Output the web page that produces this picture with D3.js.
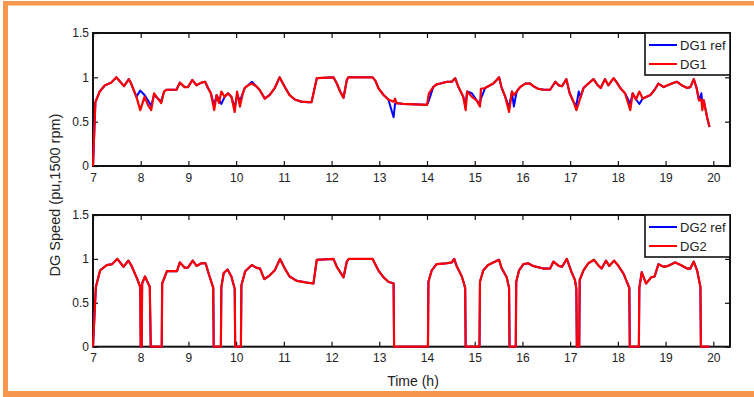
<!DOCTYPE html>
<html>
<head>
<meta charset="utf-8">
<script src="https://cdn.jsdelivr.net/npm/d3@7"></script>
<style>
  html, body { margin: 0; padding: 0; background: #fff; }
  svg { display: block; }
  text { font-family: "Liberation Sans", Arial, sans-serif; fill: #222; }
</style>
</head>
<body>
<svg id="chart" width="754" height="397"></svg>
<script>
// Time axis ticks (hours) and speed ticks (pu)
const hourTicks = [7, 8, 9, 10, 11, 12, 13, 14, 15, 16, 17, 18, 19, 20];
const speedTicks = [0, 0.5, 1, 1.5];

// DG1: time (h), measured speed and reference speed (pu)
const t1 = [7.00, 7.05, 7.14, 7.25, 7.38, 7.49, 7.65, 7.75, 7.80, 7.91,
  7.99, 8.08, 8.15, 8.22, 8.28, 8.36, 8.43, 8.49, 8.54, 8.75,
  8.82, 8.92, 8.99, 9.08, 9.17, 9.27, 9.35, 9.41, 9.47, 9.54,
  9.59, 9.64, 9.69, 9.76, 9.83, 9.90, 9.97, 10.02, 10.08, 10.14,
  10.18, 10.25, 10.33, 10.42, 10.49, 10.60, 10.70, 10.81, 10.91, 11.02,
  11.12, 11.23, 11.37, 11.51, 11.58, 11.69, 12.04, 12.11, 12.18, 12.25,
  12.32, 12.35, 12.86, 12.92, 12.98, 13.09, 13.19, 13.30, 13.33, 13.36,
  13.50, 14.00, 14.04, 14.13, 14.20, 14.28, 14.42, 14.52, 14.59, 14.66,
  14.76, 14.81, 14.84, 14.94, 15.04, 15.11, 15.13, 15.22, 15.32, 15.39,
  15.46, 15.51, 15.56, 15.64, 15.72, 15.78, 15.82, 15.88, 15.95, 16.06,
  16.16, 16.23, 16.33, 16.45, 16.58, 16.69, 16.76, 16.83, 16.92, 16.99,
  17.07, 17.13, 17.18, 17.22, 17.28, 17.38, 17.49, 17.58, 17.64, 17.73,
  17.80, 17.91, 17.98, 18.05, 18.15, 18.26, 18.31, 18.38, 18.45, 18.52,
  18.60, 18.68, 18.77, 18.85, 18.96, 19.04, 19.13, 19.24, 19.34, 19.45,
  19.52, 19.59, 19.65, 19.70, 19.75, 19.77, 19.80, 19.87, 19.92];
const dg1 = [0, 0.72, 0.84, 0.91, 0.94, 1.00, 0.90, 0.98, 0.93, 0.78,
  0.63, 0.78, 0.69, 0.63, 0.82, 0.76, 0.71, 0.84, 0.86, 0.86,
  0.94, 0.89, 0.89, 0.97, 0.91, 0.94, 0.95, 0.88, 0.82, 0.63,
  0.80, 0.71, 0.84, 0.78, 0.82, 0.78, 0.61, 0.84, 0.67, 0.82,
  0.88, 0.91, 0.93, 0.90, 0.86, 0.76, 0.80, 0.88, 1.00, 0.89,
  0.80, 0.75, 0.725, 0.72, 0.72, 0.99, 1.00, 0.93, 0.84, 0.77,
  0.97, 1.00, 1.00, 0.96, 0.88, 0.80, 0.75, 0.725, 0.76, 0.71,
  0.70, 0.69, 0.82, 0.89, 0.92, 0.93, 0.95, 0.95, 0.99, 0.89,
  0.78, 0.63, 0.84, 0.78, 0.74, 0.67, 0.87, 0.88, 0.91, 0.93,
  0.97, 1.00, 0.89, 0.78, 0.61, 0.84, 0.80, 0.84, 0.89, 0.93,
  0.93, 0.90, 0.87, 0.86, 0.86, 0.95, 0.91, 0.90, 0.98, 0.82,
  0.725, 0.63, 0.71, 0.78, 0.88, 0.93, 0.98, 0.91, 0.88, 0.98,
  0.91, 0.99, 0.94, 0.88, 0.82, 0.63, 0.82, 0.75, 0.84, 0.76,
  0.78, 0.80, 0.86, 0.93, 0.89, 0.91, 0.93, 0.95, 0.91, 0.88,
  0.89, 0.98, 0.88, 0.74, 0.75, 0.63, 0.74, 0.55, 0.44];
const dg1Ref = [0, 0.72, 0.84, 0.91, 0.94, 1.00, 0.90, 0.98, 0.93, 0.78,
  0.85, 0.80, 0.74, 0.68, 0.80, 0.76, 0.73, 0.84, 0.86, 0.86,
  0.94, 0.89, 0.89, 0.97, 0.91, 0.94, 0.95, 0.88, 0.82, 0.68,
  0.80, 0.75, 0.70, 0.78, 0.82, 0.78, 0.66, 0.80, 0.74, 0.82,
  0.88, 0.91, 0.95, 0.90, 0.86, 0.76, 0.80, 0.88, 1.00, 0.89,
  0.80, 0.75, 0.725, 0.72, 0.72, 0.99, 1.00, 0.93, 0.84, 0.77,
  0.97, 1.00, 1.00, 0.96, 0.88, 0.80, 0.75, 0.55, 0.70, 0.71,
  0.70, 0.69, 0.74, 0.89, 0.92, 0.93, 0.95, 0.95, 0.99, 0.89,
  0.78, 0.68, 0.84, 0.82, 0.74, 0.70, 0.76, 0.88, 0.91, 0.93,
  0.97, 1.00, 0.89, 0.78, 0.66, 0.84, 0.67, 0.84, 0.89, 0.93,
  0.93, 0.90, 0.87, 0.86, 0.86, 0.95, 0.91, 0.90, 0.98, 0.82,
  0.725, 0.68, 0.84, 0.78, 0.88, 0.93, 0.98, 0.91, 0.88, 0.98,
  0.91, 0.99, 0.94, 0.88, 0.82, 0.70, 0.82, 0.75, 0.70, 0.76,
  0.78, 0.80, 0.86, 0.93, 0.89, 0.91, 0.93, 0.95, 0.91, 0.88,
  0.89, 0.98, 0.88, 0.74, 0.82, 0.70, 0.74, 0.55, 0.44];

// DG2: time (h), measured speed and reference speed (pu); zero while offline
const t2 = [7.00, 7.06, 7.15, 7.29, 7.40, 7.51, 7.64, 7.74, 7.80, 7.92,
  7.99, 8.00, 8.02, 8.03, 8.09, 8.19, 8.21, 8.44, 8.45, 8.55,
  8.76, 8.82, 8.92, 8.99, 9.09, 9.17, 9.27, 9.36, 9.42, 9.52,
  9.53, 9.68, 9.69, 9.74, 9.82, 9.90, 9.97, 9.98, 10.10, 10.11,
  10.19, 10.33, 10.42, 10.50, 10.59, 10.70, 10.81, 10.92, 11.02, 11.12,
  11.27, 11.48, 11.62, 11.69, 12.04, 12.11, 12.25, 12.32, 12.36, 12.86,
  12.98, 13.09, 13.19, 13.30, 13.31, 14.02, 14.03, 14.10, 14.20, 14.40,
  14.52, 14.57, 14.62, 14.73, 14.80, 14.81, 15.10, 15.11, 15.18, 15.28,
  15.39, 15.51, 15.56, 15.67, 15.72, 15.73, 15.86, 15.87, 15.93, 16.02,
  16.12, 16.22, 16.44, 16.58, 16.65, 16.76, 16.83, 16.93, 17.03, 17.10,
  17.13, 17.14, 17.19, 17.20, 17.28, 17.38, 17.50, 17.60, 17.66, 17.75,
  17.82, 17.92, 18.00, 18.12, 18.24, 18.25, 18.44, 18.45, 18.50, 18.59,
  18.70, 18.77, 18.85, 18.96, 19.05, 19.20, 19.32, 19.45, 19.52, 19.59,
  19.66, 19.73, 19.74, 19.92];
const dg2 = [0, 0.68, 0.87, 0.93, 0.94, 1.00, 0.91, 0.98, 0.93, 0.78,
  0.68, 0, 0, 0.72, 0.80, 0.68, 0, 0, 0.72, 0.86,
  0.86, 0.96, 0.90, 0.90, 0.98, 0.92, 0.95, 0.95, 0.84, 0.67,
  0, 0, 0.68, 0.84, 0.88, 0.80, 0.66, 0, 0, 0.70,
  0.86, 0.93, 0.90, 0.89, 0.77, 0.81, 0.87, 1.00, 0.89, 0.80,
  0.75, 0.73, 0.72, 0.99, 1.00, 0.91, 0.79, 0.97, 1.00, 1.00,
  0.87, 0.79, 0.74, 0.72, 0, 0, 0.74, 0.87, 0.94, 0.95,
  0.96, 1.00, 0.92, 0.80, 0.67, 0, 0, 0.74, 0.87, 0.93,
  0.96, 0.99, 0.90, 0.79, 0.67, 0, 0, 0.74, 0.87, 0.94,
  0.95, 0.92, 0.89, 0.89, 0.97, 0.92, 0.91, 1.00, 0.85, 0.76,
  0.66, 0, 0, 0.76, 0.87, 0.95, 0.99, 0.92, 0.89, 0.98,
  0.92, 0.98, 0.93, 0.83, 0.67, 0, 0, 0.67, 0.85, 0.72,
  0.79, 0.80, 0.94, 0.91, 0.92, 0.96, 0.93, 0.89, 0.89, 0.97,
  0.87, 0.68, 0, 0];
const dg2Ref = [0, 0.68, 0.87, 0.93, 0.94, 1.00, 0.91, 0.98, 0.93, 0.78,
  0.68, 0, 0, 0.72, 0.80, 0.68, 0, 0, 0.72, 0.86,
  0.86, 0.96, 0.90, 0.90, 0.98, 0.92, 0.95, 0.95, 0.84, 0.67,
  0, 0, 0.68, 0.84, 0.88, 0.80, 0.66, 0, 0, 0.70,
  0.86, 0.93, 0.90, 0.89, 0.77, 0.81, 0.87, 1.00, 0.89, 0.80,
  0.75, 0.73, 0.72, 0.99, 1.00, 0.91, 0.79, 0.97, 1.00, 1.00,
  0.87, 0.79, 0.74, 0.72, 0, 0, 0.74, 0.87, 0.94, 0.95,
  0.96, 1.00, 0.92, 0.80, 0.67, 0, 0, 0.74, 0.87, 0.93,
  0.96, 0.99, 0.90, 0.79, 0.67, 0, 0, 0.74, 0.87, 0.94,
  0.95, 0.92, 0.89, 0.89, 0.97, 0.92, 0.91, 1.00, 0.85, 0.76,
  0.66, 0, 0, 0.76, 0.87, 0.95, 0.99, 0.92, 0.89, 0.98,
  0.92, 0.98, 0.93, 0.83, 0.67, 0, 0, 0.67, 0.85, 0.72,
  0.79, 0.80, 0.94, 0.91, 0.92, 0.96, 0.93, 0.89, 0.89, 0.97,
  0.87, 0.68, 0, 0];

const REF_COLOR = "#0000ff";
const ACT_COLOR = "#ff0000";

const svg = d3.select("#chart");

// Orange frame around the figure
const frame = svg.append("g").attr("fill", "#f7964f");
frame.append("rect").attr("x", 3).attr("y", 1).attr("width", 754).attr("height", 4.5);
frame.append("rect").attr("x", 3).attr("y", 1).attr("width", 5).attr("height", 396);
frame.append("rect").attr("x", 3).attr("y", 391).attr("width", 754).attr("height", 6);

const left = 93, right = 730;
const x = d3.scaleLinear().domain([7, 20.35]).range([left, right]);

function panel(top, bottom, times, actual, ref, names) {
  const y = d3.scaleLinear().domain([0, 1.5]).range([bottom, top]);
  const g = svg.append("g");

  // inward ticks on all four sides
  g.append("g").attr("transform", `translate(0,${bottom})`)
    .call(d3.axisBottom(x).tickValues(hourTicks).tickSizeInner(-5).tickSizeOuter(0).tickPadding(7).tickFormat(d3.format("d")))
    .call(a => a.select(".domain").remove());
  g.append("g").attr("transform", `translate(0,${top})`)
    .call(d3.axisTop(x).tickValues(hourTicks).tickSizeInner(-5).tickSizeOuter(0).tickFormat(""))
    .call(a => a.select(".domain").remove());
  g.append("g").attr("transform", `translate(${left},0)`)
    .call(d3.axisLeft(y).tickValues(speedTicks).tickSizeInner(-5).tickSizeOuter(0).tickPadding(4).tickFormat(d => d3.format("")(d)))
    .call(a => a.select(".domain").remove());
  g.append("g").attr("transform", `translate(${right},0)`)
    .call(d3.axisRight(y).tickValues(speedTicks).tickSizeInner(-5).tickSizeOuter(0).tickFormat(""))
    .call(a => a.select(".domain").remove());
  g.selectAll(".tick line").attr("stroke", "#111").attr("stroke-width", 1.2);
  g.selectAll(".tick text").attr("font-size", 12).attr("fill", "#333")
    .attr("font-family", "'Liberation Sans', Arial, sans-serif");

  g.append("rect").attr("x", left).attr("y", top)
    .attr("width", right - left).attr("height", bottom - top)
    .attr("fill", "none").attr("stroke", "#111").attr("stroke-width", 2);

  const line = vals => d3.line().x((d, i) => x(times[i])).y(d => y(d))(vals);
  g.append("path").attr("d", line(ref)).attr("fill", "none")
    .attr("stroke", REF_COLOR).attr("stroke-width", 2).attr("stroke-linejoin", "round");
  g.append("path").attr("d", line(actual)).attr("fill", "none")
    .attr("stroke", ACT_COLOR).attr("stroke-width", 2.2).attr("stroke-linejoin", "round");

  // legend box in the upper right corner
  const lx = 645, lw = right - lx, lh = 42;
  const lg = g.append("g");
  lg.append("rect").attr("x", lx).attr("y", top).attr("width", lw).attr("height", lh)
    .attr("fill", "#fff").attr("stroke", "#111").attr("stroke-width", 1.6);
  [[names[0], REF_COLOR, 12], [names[1], ACT_COLOR, 31]].forEach(([label, col, dy]) => {
    lg.append("line").attr("x1", lx + 4).attr("x2", lx + 32)
      .attr("y1", top + dy).attr("y2", top + dy)
      .attr("stroke", col).attr("stroke-width", 2);
    lg.append("text").attr("x", lx + 35).attr("y", top + dy + 4.5)
      .attr("font-size", 13).attr("fill", "#222").text(label);
  });
}

panel(33, 166, t1, dg1, dg1Ref, ["DG1 ref", "DG1"]);
panel(215, 346.7, t2, dg2, dg2Ref, ["DG2 ref", "DG2"]);

// Axis titles
svg.append("text").attr("transform", "translate(60,195) rotate(-90)")
  .attr("text-anchor", "middle").attr("font-size", 14.5).attr("fill", "#222")
  .text("DG Speed (pu,1500 rpm)");
svg.append("text").attr("x", 413).attr("y", 386)
  .attr("text-anchor", "middle").attr("font-size", 14).attr("fill", "#222")
  .text("Time (h)");

// keep the frame on top so the title is clipped by the bottom band
svg.node().appendChild(frame.node());
</script>
</body>
</html>
